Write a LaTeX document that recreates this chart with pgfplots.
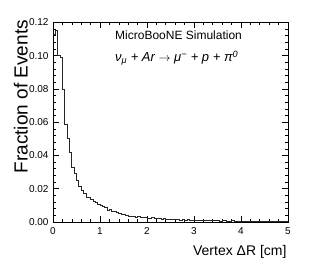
\documentclass[border=0pt]{standalone}
\usepackage{fontspec}
\setmainfont{Liberation Sans}
\usepackage{pgfplots}
\pgfplotsset{compat=1.18}
\begin{document}
\begin{tikzpicture}[x=1pt,y=1pt]
\useasboundingbox (0,0) rectangle (313,272);
\begin{axis}[
  at={(53pt,50pt)}, anchor=south west, scale only axis,
  width=235pt, height=199.5pt,
  xmin=0, xmax=5, ymin=0, ymax=0.12,
  xtick={0,1,2,3,4,5}, ytick={0,0.02,0.04,0.06,0.08,0.10,0.12},
  minor x tick num=4, minor y tick num=4,
  tick align=inside, major tick length=6pt, minor tick length=3pt,
  xtick pos=both, ytick pos=both,
  xticklabel pos=bottom, yticklabel pos=left,
  scaled y ticks=false,
  /pgf/number format/assume math mode=true,
  yticklabel style={/pgf/number format/fixed, /pgf/number format/fixed zerofill, /pgf/number format/precision=2, xshift=-1pt},
  xticklabel style={yshift=-2pt},
  tick label style={font=\fontsize{10}{10}\selectfont},
  axis line style={line width=0.8pt},
  tick style={line width=0.6pt, black},
]
\addplot[const plot, line width=0.8pt, color=black!85] coordinates {
(0.00,0.113) (0.05,0.115) (0.10,0.100) (0.15,0.099) (0.20,0.080)
(0.25,0.059) (0.30,0.050) (0.35,0.042) (0.40,0.033) (0.45,0.029)
(0.50,0.025) (0.55,0.0217) (0.60,0.019) (0.65,0.017) (0.70,0.015)
(0.75,0.0145) (0.80,0.0136) (0.85,0.0122) (0.90,0.0115) (0.95,0.0108)
(1.00,0.0100) (1.05,0.0096) (1.10,0.0085) (1.15,0.0072) (1.20,0.0078)
(1.25,0.0062) (1.30,0.0065) (1.35,0.0055) (1.40,0.0050) (1.45,0.0048)
(1.50,0.0045) (1.55,0.0038) (1.60,0.0036) (1.65,0.0035) (1.70,0.0034)
(1.75,0.0030) (1.80,0.0032) (1.85,0.0028) (1.90,0.0027) (1.95,0.0029)
(2.00,0.0024) (2.05,0.0022) (2.10,0.0025) (2.15,0.0021) (2.20,0.0019)
(2.25,0.0020) (2.30,0.0018) (2.35,0.0021) (2.40,0.0016) (2.45,0.0017)
(2.50,0.0015) (2.55,0.0014) (2.60,0.0016) (2.65,0.0013) (2.70,0.0012)
(2.75,0.0014) (2.80,0.0011) (2.85,0.0013) (2.90,0.0010) (2.95,0.0011)
(3.00,0.0012) (3.05,0.0009) (3.10,0.0011) (3.15,0.0008) (3.20,0.0010)
(3.25,0.0009) (3.30,0.0008) (3.35,0.0010) (3.40,0.0007) (3.45,0.0008)
(3.50,0.0009) (3.55,0.0006) (3.60,0.0008) (3.65,0.0007) (3.70,0.0006)
(3.75,0.0005) (3.80,0.0007) (3.85,0.0006) (3.90,0.0005) (3.95,0.0006)
(4.00,0.0004) (4.05,0.0005) (4.10,0.0004) (4.15,0.0005) (4.20,0.0003)
(4.25,0.0004) (4.30,0.0004) (4.35,0.0003) (4.40,0.0004) (4.45,0.0003)
(4.50,0.0003) (4.55,0.0004) (4.60,0.0002) (4.65,0.0003) (4.70,0.0003)
(4.75,0.0002) (4.80,0.0003) (4.85,0.0002) (4.90,0.0002) (4.95,0.0002)
(5.00,0.0002)
};
\end{axis}
\node[anchor=base west, inner sep=0pt, font=\fontsize{12}{12}\selectfont] at (115,232) {MicroBooNE Simulation};
\node[anchor=base west, inner sep=0pt, font=\fontsize{13}{13}\selectfont\itshape] at (115,210) {ν\textsubscript{μ} + Ar $\rightarrow$ μ\textsuperscript{−} + p + π\textsuperscript{0}};
\node[rotate=90, anchor=base east, inner sep=0pt, font=\fontsize{19}{19}\selectfont] at (27.7,252) {Fraction of Events};
\node[anchor=base east, inner sep=0pt, font=\fontsize{14}{14}\selectfont] at (286.7,16) {Vertex ΔR [cm]};
\end{tikzpicture}
\end{document}
